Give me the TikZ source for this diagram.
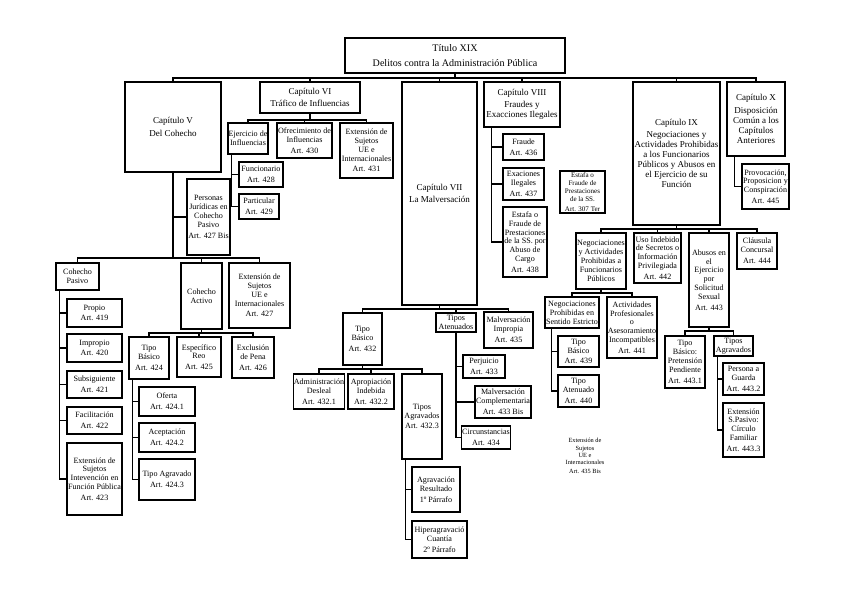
\documentclass[tikz,border=0pt]{standalone}
\usepackage{fontspec}
\setmainfont{Liberation Serif}
\usepackage{tikz}

\newcommand{\artl}[1]{\\[1.5pt]Art. #1}

\begin{document}
\begin{tikzpicture}[x=0.3mm,y=-0.3mm,
   box/.style={draw,line width=1.1pt,align=center,inner sep=0.5pt,
               font=\fontsize{6.9}{7.6}\selectfont},
   chap/.style={box,font=\fontsize{7.7}{8.6}\selectfont},
   sz/.style 2 args={minimum width=#1*0.3mm,minimum height=#2*0.3mm},
   wire/.style={line width=1.1pt},
]
\useasboundingbox (0,0) rectangle (848,599);

% title and chapters
\node[chap,sz={220}{35},font=\fontsize{8.6}{9.5}\selectfont] (tit) at (455,55.5)
      {Título XIX\\[3pt]Delitos contra la Administración Pública};
\node[chap,sz={96}{90}]  (cap5)  at (173,127)   {Capítulo V\\[2pt]Del Cohecho};
\node[chap,sz={100}{31}] (cap6)  at (310,97.5)  {Capítulo VI\\[2pt]Tráfico de Influencias};
\node[chap,sz={75}{223}] (cap7)  at (439.5,193.5) {Capítulo VII\\[2pt]La Malversación};
\node[chap,sz={76}{45}]  (cap8)  at (522,104.5) {Capítulo VIII\\[2pt]Fraudes y\\Exacciones Ilegales};
\node[chap,sz={87}{143}] (cap9)  at (676.5,153.5)
      {Capítulo IX\\[2pt]Negociaciones y\\Actividades Prohibidas\\a los Funcionarios\\Públicos y Abusos en\\el Ejercicio de su\\Función};
\node[chap,sz={58}{74}]  (cap10) at (756,119)   {Capítulo X\\[2pt]Disposición\\Común a los\\Capítulos\\Anteriores};

% capitulo V
\node[box,sz={43}{76}] (pjur)   at (208.5,217) {Personas\\Jurídicas en\\Cohecho\\Pasivo\artl{427 Bis}};
\node[box,sz={43}{27}] (cpas)   at (77.5,276.5) {Cohecho\\Pasivo};
\node[box,sz={55}{28}] (prop)   at (94.5,313)   {Propio\artl{419}};
\node[box,sz={55}{28}] (impr)   at (94.5,348)   {Impropio\artl{420}};
\node[box,sz={55}{27}] (subs)   at (94.5,384.5) {Subsiguiente\artl{421}};
\node[box,sz={55}{27}] (faci)   at (94.5,420.5) {Facilitación\artl{422}};
\node[box,sz={55}{72}] (ext423) at (94.5,479)   {Extensión de\\Sujetos\\Intevención en\\Función Pública\artl{423}};
\node[box,sz={41}{66}] (cact)   at (201.5,296)  {Cohecho\\Activo};
\node[box,sz={61}{65}] (ext427) at (259.5,295.5) {Extensión de\\Sujetos\\UE e\\Internacionales\artl{427}};
\node[box,sz={40}{42}] (tb424)  at (149,358)    {Tipo\\Básico\artl{424}};
\node[box,sz={44}{40}] (esp425) at (199,357)    {Específico\\Reo\artl{425}};
\node[box,sz={42}{41}] (exc426) at (253,357.5)  {Exclusión\\de Pena\artl{426}};
\node[box,sz={56}{29}] (ofer)   at (167,401.5)  {Oferta\artl{424.1}};
\node[box,sz={56}{29}] (acep)   at (167,437.5)  {Aceptación\artl{424.2}};
\node[box,sz={56}{41}] (tagr)   at (167,479.5)  {Tipo Agravado\artl{424.3}};

% capitulo VI
\node[box,sz={38}{31}] (ejer)   at (248,138.5)  {Ejercicio de\\Influencias};
\node[box,sz={55}{35}] (ofr)    at (304.5,140.5) {Ofrecimiento de\\Influencias\artl{430}};
\node[box,sz={53}{55}] (ext431) at (366.5,150.5) {Extensión de\\Sujetos\\UE e\\Internacionales\artl{431}};
\node[box,sz={44}{25}] (func)   at (261,174.5)  {Funcionario\artl{428}};
\node[box,sz={40}{25}] (part)   at (259,206.5)  {Particular\artl{429}};

% capitulo VII
\node[box,sz={39}{52}] (tb432)  at (362.5,339)  {Tipo\\Básico\artl{432}};
\node[box,sz={40}{19}] (tat)    at (456,322.5)  {Tipos\\Atenuados};
\node[box,sz={49}{36}] (mimp)   at (508.5,330)  {Malversación\\Impropia\artl{435}};
\node[box,sz={46}{35}] (adm)    at (319,391.5)  {Administración\\Desleal\artl{432.1}};
\node[box,sz={46}{35}] (apr)    at (371,391.5)  {Apropiación\\Indebida\artl{432.2}};
\node[box,sz={40}{85}] (tag432) at (422,416.5)  {Tipos\\Agravados\artl{432.3}};
\node[box,sz={48}{45}] (agr)    at (436,489.5)  {Agravación\\Resultado\\[1.5pt]1º Párrafo};
\node[box,sz={55}{37}] (hip)    at (439.5,539.5) {Hiperagravació\\Cuantía\\[1.5pt]2º Párrafo};
\node[box,sz={42}{23}] (perj)   at (484,366.5)  {Perjuicio\artl{433}};
\node[box,sz={56}{32}] (mcomp)  at (503,402)    {Malversación\\Complementaria\artl{433 Bis}};
\node[box,sz={48}{23}] (circ)   at (486,437.5)  {Circunstancias\artl{434}};

% capitulo VIII
\node[box,sz={41}{26}] (fraude) at (523.5,147)  {Fraude\artl{436}};
\node[box,sz={41}{32}] (exac)   at (523.5,184)  {Exaciones\\Ilegales\artl{437}};
\node[box,sz={44}{70}] (est438) at (525,242)    {Estafa o\\Fraude de\\Prestaciones\\de la SS. por\\Abuso de\\Cargo\artl{438}};
\node[box,sz={45}{42},font=\fontsize{6}{6.8}\selectfont] (est307) at (582.5,192)
      {Estafa o\\Fraude de\\Prestaciones\\de la SS.\artl{307 Ter}};
\node[align=center,inner sep=0pt,font=\fontsize{5.4}{6.2}\selectfont] (ext435) at (585,456)
      {Extensión de\\Sujetos\\UE e\\Internacionales\artl{435 Bis}};

% capitulo IX
\node[box,sz={50}{56}] (neg)    at (601,261)    {Negociaciones\\y Actividades\\Prohibidas a\\Funcionarios\\Públicos};
\node[box,sz={47}{50}] (uso)    at (657.5,258)  {Uso Indebido\\de Secretos o\\Información\\Privilegiada\artl{442}};
\node[box,sz={40}{94}] (abu)    at (709,280)    {Abusos en\\el\\Ejercicio\\por\\Solicitud\\Sexual\artl{443}};
\node[box,sz={40}{36}] (claus)  at (757,251)    {Cláusula\\Concursal\artl{444}};
\node[box,sz={54}{31}] (nps)    at (572,312.5)  {Negociaciones\\Prohibidas en\\Sentido Estricto};
\node[box,sz={50}{61}] (act441) at (632,327.5)  {Actividades\\Profesionales\\o\\Asesoramiento\\Incompatibles\artl{441}};
\node[box,sz={41}{31}] (tb439)  at (578.5,351.5) {Tipo\\Básico\artl{439}};
\node[box,sz={41}{32}] (ta440)  at (578.5,391)  {Tipo\\Atenuado\artl{440}};
\node[box,sz={40}{52}] (tb443)  at (685,362)    {Tipo\\Básico:\\Pretensión\\Pendiente\artl{443.1}};
\node[box,sz={39}{20}] (tag443) at (733.5,346)  {Tipos\\Agravados};
\node[box,sz={41}{32}] (pers)   at (743.5,379)  {Persona a\\Guarda\artl{443.2}};
\node[box,sz={41}{54}] (ext4433) at (743.5,430) {Extensión\\S.Pasivo:\\Círculo\\Familiar\artl{443.3}};

% capitulo X
\node[box,sz={47}{45}] (prov)   at (765.5,186.5) {Provocación,\\Proposicion y\\Conspiración\artl{445}};

% buses
\coordinate (b0)  at (455,78);
\coordinate (b5)  at (173,258);
\coordinate (b6)  at (201.5,333);
\coordinate (b7)  at (310,120);
\coordinate (b8)  at (439.5,309);
\coordinate (b9)  at (362.5,369);
\coordinate (b10) at (676.5,229);
\coordinate (b11) at (601,293);
\coordinate (b12) at (709,331);

\draw[wire] (tit.south) -- (b0);
\draw[wire] (cap5.north) |- (b0) -| (cap10.north);
\foreach \n in {cap6,cap7,cap8,cap9} \draw[wire] (\n.north) -- (\n.north |- b0);

\draw[wire] (cap5.south) -- (b5);
\draw[wire] (cap5.south) |- (pjur.west);
\draw[wire] (cpas.north) |- (b5) -| (ext427.north);
\draw[wire] (cact.north) -- (cact.north |- b5);

\draw[wire] (cact.south) -- (b6);
\draw[wire] (tb424.north) |- (b6) -| (exc426.north);
\draw[wire] (esp425.north) -- (esp425.north |- b6);

\draw[wire] (cap6.south) -- (b7);
\draw[wire] (ejer.north) |- (b7) -| (ext431.north);
\draw[wire] (ofr.north) -- (ofr.north |- b7);

\draw[wire] (cap7.south) -- (b8);
\draw[wire] (tb432.north) |- (b8) -| (mimp.north);
\draw[wire] (tat.north) -- (tat.north |- b8);

\draw[wire] (tb432.south) -- (b9);
\draw[wire] (adm.north) |- (b9) -| (tag432.north);
\draw[wire] (apr.north) -- (apr.north |- b9);

\draw[wire] (cap9.south) -- (b10);
\draw[wire] (neg.north) |- (b10) -| (claus.north);
\draw[wire] (uso.north) -- (uso.north |- b10);
\draw[wire] (abu.north) -- (abu.north |- b10);

\draw[wire] (neg.south) -- (b11);
\draw[wire] (nps.north) |- (b11) -| (act441.north);

\draw[wire] (abu.south) -- (b12);
\draw[wire] (tb443.north) |- (b12) -| (tag443.north);

% side spines
\coordinate (s1) at ([xshift=1.2mm]cpas.south west);
\foreach \n in {prop,impr,subs,faci,ext423} \draw[wire] (s1) |- (\n.west);
\coordinate (s2) at ([xshift=1.2mm]tb424.south west);
\foreach \n in {ofer,acep,tagr} \draw[wire] (s2) |- (\n.west);
\coordinate (s3) at ([xshift=1.2mm]ejer.south west);
\foreach \n in {func,part} \draw[wire] (s3) |- (\n.west);
\coordinate (s4) at ([xshift=1.2mm]tag432.south west);
\foreach \n in {agr,hip} \draw[wire] (s4) |- (\n.west);
\foreach \n in {perj,mcomp,circ} \draw[wire] (tat.south) |- (\n.west);
\coordinate (s5) at ([xshift=2.4mm]cap8.south west);
\foreach \n in {fraude,exac,est438} \draw[wire] (s5) |- (\n.west);
\coordinate (s6) at ([xshift=2.1mm]nps.south west);
\foreach \n in {tb439,ta440} \draw[wire] (s6) |- (\n.west);
\coordinate (s7) at ([xshift=1.2mm]tag443.south west);
\foreach \n in {pers,ext4433} \draw[wire] (s7) |- (\n.west);
\coordinate (s8) at ([xshift=2.4mm]cap10.south west);
\draw[wire] (s8) |- (prov.west);
\end{tikzpicture}
\end{document}
